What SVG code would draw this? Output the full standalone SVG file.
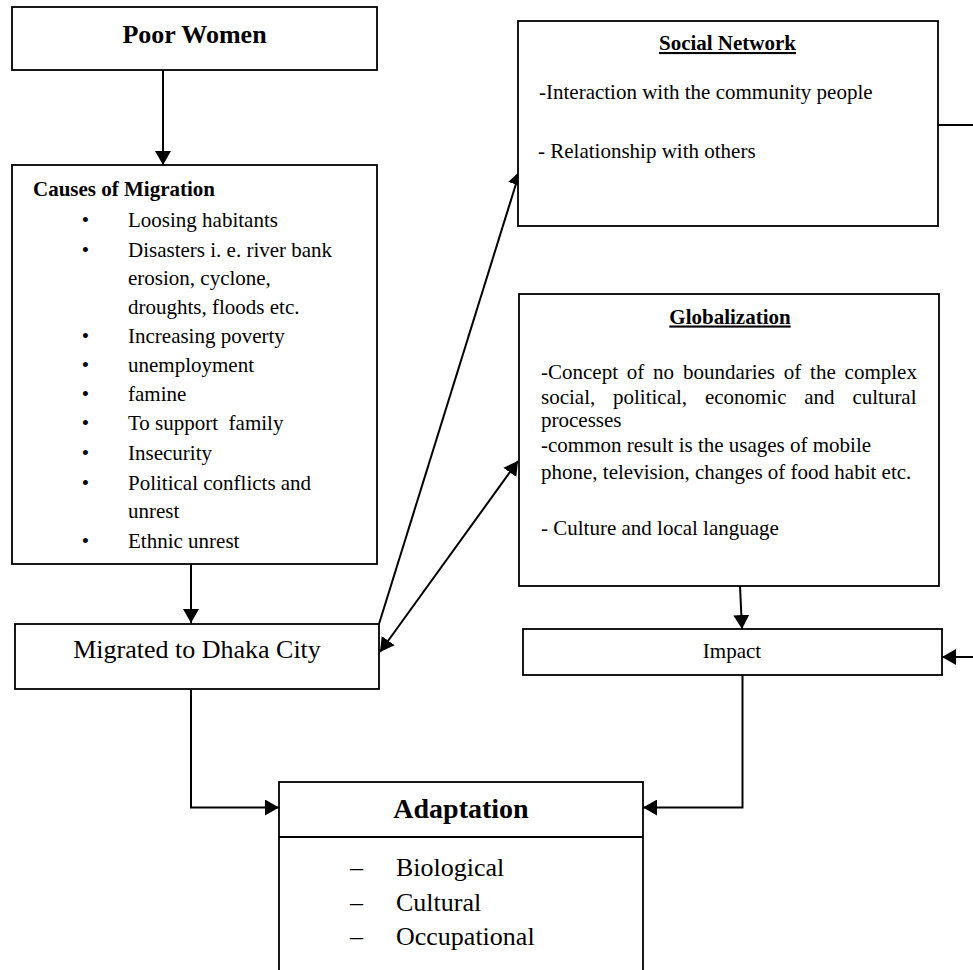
<svg xmlns="http://www.w3.org/2000/svg" width="973" height="970" viewBox="0 0 973 970">
<defs>
<style>
text{font-family:"Liberation Serif","Times New Roman",serif;fill:#000}
.box{fill:#fff;stroke:#000;stroke-width:1.8}
.t21{font-size:21px}
.b21{font-size:21px;font-weight:bold}
.t26{font-size:26px}
.mid{text-anchor:middle}
.ul{text-decoration:underline}
.conn{fill:none;stroke:#000;stroke-width:2}
</style>
<marker id="ah" viewBox="0 0 14 16" refX="14" refY="8" markerWidth="14" markerHeight="16" markerUnits="userSpaceOnUse" orient="auto-start-reverse">
<path d="M0,0 L14,8 L0,16 z" fill="#000"/>
</marker>
</defs>
<rect width="973" height="970" fill="#fff"/>

<g id="connectors">
<path class="conn" d="M163,70 V165" marker-end="url(#ah)"/>
<path class="conn" d="M191,564 V623" marker-end="url(#ah)"/>
<path class="conn" d="M379,624 L520,171" marker-end="url(#ah)"/>
<path class="conn" d="M380,652 L518,461" marker-start="url(#ah)" marker-end="url(#ah)"/>
<path class="conn" d="M740,586 L742,629" marker-end="url(#ah)"/>
<path class="conn" d="M191,689 V807.5 H279" marker-end="url(#ah)"/>
<path class="conn" d="M742.5,675 V807.5 H643" marker-end="url(#ah)"/>
<path class="conn" d="M938,125 H995 V657 H942" marker-end="url(#ah)"/>
</g>

<g id="poor-women">
<rect class="box" x="12" y="7" width="365" height="63"/>
<text x="194.5" y="43" class="mid" style="font-size:26px;font-weight:bold">Poor Women</text>
</g>

<g id="causes">
<rect class="box" x="12" y="165" width="365" height="399"/>
<text x="33" y="196" class="b21">Causes of Migration</text>
<g class="t21">
<text x="85.5" y="227" class="mid">•</text><text x="128" y="227">Loosing habitants</text>
<text x="85.5" y="256.7" class="mid">•</text><text x="128" y="256.7">Disasters i. e. river bank</text>
<text x="128" y="285">erosion, cyclone,</text>
<text x="128" y="313.5">droughts, floods etc.</text>
<text x="85.5" y="342.7" class="mid">•</text><text x="128" y="342.7">Increasing poverty</text>
<text x="85.5" y="371.7" class="mid">•</text><text x="128" y="371.7">unemployment</text>
<text x="85.5" y="400.7" class="mid">•</text><text x="128" y="400.7">famine</text>
<text x="85.5" y="430" class="mid">•</text><text x="128" y="430" xml:space="preserve">To support  family</text>
<text x="85.5" y="460" class="mid">•</text><text x="128" y="460">Insecurity</text>
<text x="85.5" y="490" class="mid">•</text><text x="128" y="490">Political conflicts and</text>
<text x="128" y="518.3">unrest</text>
<text x="85.5" y="548.3" class="mid">•</text><text x="128" y="548.3">Ethnic unrest</text>
</g>
</g>

<g id="migrated">
<rect class="box" x="15" y="624" width="364" height="65"/>
<text x="197" y="658" class="t26 mid">Migrated to Dhaka City</text>
</g>

<g id="social-network">
<rect class="box" x="518" y="21" width="420" height="205"/>
<text x="727.5" y="50" class="b21 mid ul">Social Network</text>
<text x="539" y="99" class="t21">-Interaction with the community people</text>
<text x="538" y="158" class="t21">- Relationship with others</text>
</g>

<g id="globalization">
<rect class="box" x="519" y="294" width="420" height="292"/>
<text x="730" y="323.5" class="b21 mid ul">Globalization</text>
<g class="t21">
<text y="379"><tspan x="541">-Concept</tspan><tspan x="626.8">of</tspan><tspan x="653.1">no</tspan><tspan x="682.9">boundaries</tspan><tspan x="783.8">of</tspan><tspan x="810.1">the</tspan><tspan x="844.6">complex</tspan></text>
<text y="404"><tspan x="541">social,</tspan><tspan x="613">political,</tspan><tspan x="704.9">economic</tspan><tspan x="804.3">and</tspan><tspan x="852.4">cultural</tspan></text>
<text x="541" y="427.3">processes</text>
<text x="541" y="452.3">-common result is the usages of mobile</text>
<text x="541" y="479.3">phone, television, changes of food habit etc.</text>
<text x="541" y="535">- Culture and local language</text>
</g>
</g>

<g id="impact">
<rect class="box" x="523" y="629" width="419" height="46"/>
<text x="732" y="658" class="t21 mid">Impact</text>
</g>

<g id="adaptation">
<rect class="box" x="279" y="782" width="364" height="210"/>
<line x1="279" y1="837" x2="643" y2="837" stroke="#000" stroke-width="1.8"/>
<text x="461" y="818" class="mid" style="font-size:28px;font-weight:bold">Adaptation</text>
<g class="t26">
<text x="350" y="876">–</text><text x="396" y="876">Biological</text>
<text x="350" y="910.7">–</text><text x="396" y="910.7">Cultural</text>
<text x="350" y="945">–</text><text x="396" y="945">Occupational</text>
</g>
</g>
</svg>
